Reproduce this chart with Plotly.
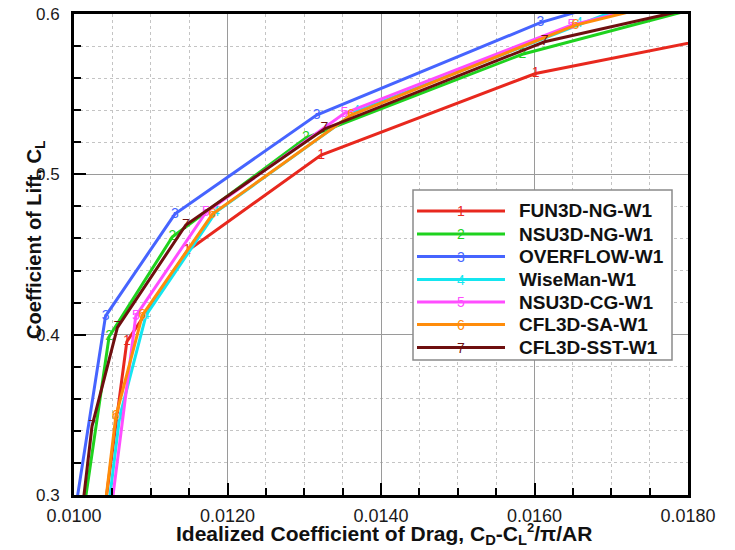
import plotly.graph_objects as go

# ---- data ----
names = ["FUN3D-NG-W1", "NSU3D-NG-W1", "OVERFLOW-W1", "WiseMan-W1",
         "NSU3D-CG-W1", "CFL3D-SA-W1", "CFL3D-SST-W1"]
symbols = ["1", "2", "3", "4", "5", "6", "7"]
colors = ["#E8281E", "#1ED21E", "#4664FF", "#14E6F0", "#FF4DFF", "#FF8C0A", "#6E0F0F"]

x_fun3d_ng = [0.010365, 0.010688, 0.011474, 0.013219, 0.016014, 0.018415]
y_fun3d_ng = [0.2781, 0.3956, 0.4522, 0.5120, 0.5629, 0.5857]

x_nsu3d_ng = [0.010090, 0.010457, 0.011283, 0.013023, 0.015841, 0.018415]
y_nsu3d_ng = [0.2781, 0.3987, 0.4611, 0.5228, 0.5749, 0.6074]

x_overflow = [0.009977, 0.010411, 0.011314, 0.013161, 0.016076, 0.017110]
y_overflow = [0.2781, 0.4116, 0.4752, 0.5370, 0.5946, 0.6092]

x_wiseman = [0.010414, 0.010594, 0.010939, 0.011849, 0.013675, 0.016579, 0.017501]
y_wiseman = [0.2781, 0.3486, 0.4122, 0.4765, 0.5391, 0.5938, 0.6105]

x_nsu3d_cg = [0.010451, 0.010805, 0.011718, 0.013523, 0.016480, 0.018023]
y_nsu3d_cg = [0.2781, 0.4116, 0.4762, 0.5381, 0.5931, 0.6112]

x_cfl3d_sa = [0.010368, 0.010544, 0.010891, 0.011804, 0.013610, 0.016536, 0.018154]
y_cfl3d_sa = [0.2781, 0.3488, 0.4122, 0.4752, 0.5370, 0.5931, 0.6122]

x_cfl3d_sst = [0.010077, 0.010235, 0.010565, 0.011457, 0.013262, 0.016132, 0.018415]
y_cfl3d_sst = [0.2781, 0.3430, 0.4044, 0.4684, 0.5283, 0.5827, 0.6073]

series_x = [x_fun3d_ng, x_nsu3d_ng, x_overflow, x_wiseman, x_nsu3d_cg, x_cfl3d_sa, x_cfl3d_sst]
series_y = [y_fun3d_ng, y_nsu3d_ng, y_overflow, y_wiseman, y_nsu3d_cg, y_cfl3d_sa, y_cfl3d_sst]

x_range = [0.0100, 0.0180]
y_range = [0.3, 0.6]
x_ticks = [0.0100, 0.0120, 0.0140, 0.0160, 0.0180]
x_tick_labels = ["0.0100", "0.0120", "0.0140", "0.0160", "0.0180"]
y_ticks = [0.3, 0.4, 0.5, 0.6]
y_tick_labels = ["0.3", "0.4", "0.5", "0.6"]

# ---- figure ----
fig = go.Figure()
for i in range(len(names)):
    xs, ys = series_x[i], series_y[i]
    # symbol labels only on points that fall inside the visible window
    labels = [symbols[i] if (x_range[0] <= xv <= x_range[1] and y_range[0] <= yv <= y_range[1]) else ""
              for xv, yv in zip(xs, ys)]
    fig.add_trace(go.Scatter(
        x=xs, y=ys, name=names[i],
        mode="lines+text", text=labels,
        textposition="middle center",
        textfont=dict(family="Liberation Sans, Arial", size=14, color=colors[i]),
        line=dict(color=colors[i], width=3),
        cliponaxis=True, showlegend=False,
    ))

W, H = 735, 550
ml, mr, mt, mb = 74, 47, 14, 55
pw, ph = W - ml - mr, H - mt - mb


def px_x(p):
    return (p - ml) / pw


def px_y(p):
    return (H - mb - p) / ph


axis_common = dict(
    showline=True, linecolor="black", linewidth=3, mirror=True,
    ticks="inside", ticklen=12, tickwidth=2, tickcolor="black",
    showgrid=True, gridcolor="#9a9a9a", gridwidth=1,
    zeroline=False, automargin=False,
)

fig.update_xaxes(
    range=x_range, tickvals=x_ticks, ticktext=x_tick_labels,
    minor=dict(dtick=0.0005, showgrid=True, gridcolor="#c4c4c4", griddash="dot",
               ticks="inside", ticklen=7, tickwidth=1.5, tickcolor="black"),
    ticklabelstandoff=2,
    tickfont=dict(family="Liberation Sans, Arial", size=18, color="#1a1a1a"),
    **axis_common,
)
fig.update_yaxes(
    range=y_range, tickvals=y_ticks, ticktext=y_tick_labels,
    minor=dict(dtick=0.02, showgrid=True, gridcolor="#c4c4c4", griddash="dot",
               ticks="inside", ticklen=7, tickwidth=1.5, tickcolor="black"),
    ticklabelstandoff=8,
    tickfont=dict(family="Liberation Sans, Arial", size=17, color="#1a1a1a"),
    **axis_common,
)

shapes = []
annotations = []

# custom legend box
lx0, lx1, ly0, ly1 = 413, 672, 190, 360
shapes.append(dict(type="rect", xref="paper", yref="paper",
                   x0=px_x(lx0), x1=px_x(lx1), y0=px_y(ly1), y1=px_y(ly0),
                   line=dict(color="#8a8a8a", width=1.5), fillcolor="white", layer="above"))
row_y = [211, 234, 256.5, 279.5, 302, 324.5, 347.5]
for i in range(len(names)):
    yy = px_y(row_y[i])
    shapes.append(dict(type="line", xref="paper", yref="paper",
                       x0=px_x(417), x1=px_x(505), y0=yy, y1=yy,
                       line=dict(color=colors[i], width=3), layer="above"))
    annotations.append(dict(xref="paper", yref="paper", x=px_x(461), y=yy,
                            text=symbols[i], showarrow=False, xanchor="center", yanchor="middle",
                            font=dict(family="Liberation Sans, Arial", size=14, color=colors[i])))
    annotations.append(dict(xref="paper", yref="paper", x=px_x(517), y=yy,
                            text="<b>%s</b>" % names[i], showarrow=False,
                            xanchor="left", yanchor="middle",
                            font=dict(family="Liberation Sans, Arial", size=19, color="#111111")))

# axis titles
annotations.append(dict(xref="paper", yref="paper", x=px_x(384), y=px_y(534),
                        text="<b>Idealized Coefficient of Drag, C<sub>D</sub>-C<sub>L</sub>"
                             "<sup><span style='font-size:13px'>2</span></sup>/π/AR</b>",
                        showarrow=False, xanchor="center", yanchor="middle",
                        font=dict(family="Liberation Sans, Arial", size=21, color="#111111")))
annotations.append(dict(xref="paper", yref="paper", x=px_x(35), y=px_y(240),
                        text="<b>Coefficient of Lift, C<sub>L</sub></b>", textangle=-90,
                        showarrow=False, xanchor="center", yanchor="middle",
                        font=dict(family="Liberation Sans, Arial", size=20, color="#111111")))

fig.update_layout(
    width=W, height=H,
    margin=dict(l=ml, r=mr, t=mt, b=mb, autoexpand=False),
    paper_bgcolor="white", plot_bgcolor="white",
    showlegend=False,
    shapes=shapes, annotations=annotations,
)

fig.write_html("out.html", config={"displayModeBar": False},
               post_script="document.body.style.margin='0px';document.body.style.overflow='hidden';")
